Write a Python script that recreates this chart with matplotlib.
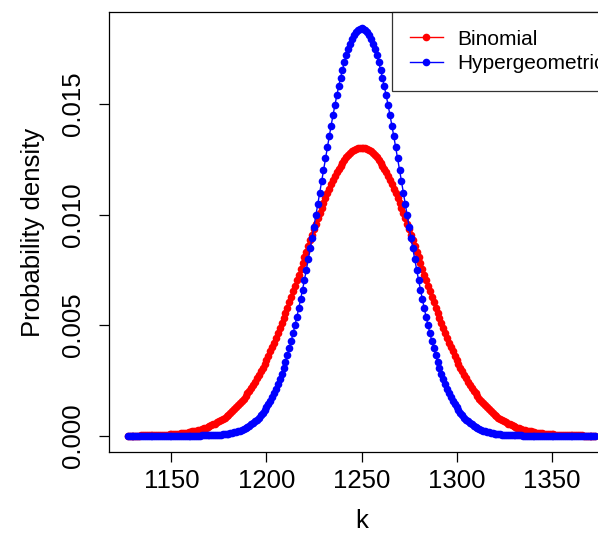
import numpy as np
import matplotlib
matplotlib.use("Agg")
import matplotlib.pyplot as plt

plt.rcParams['font.family'] = ['Liberation Sans', 'DejaVu Sans']

# k values
k = np.arange(1127, 1374)

# Probability values in units of 1e-5
binom_e5 = [
    0.4, 0.5, 0.5, 0.6, 0.7, 0.8, 0.9, 1.0, 1.1, 1.3,
    1.4, 1.6, 1.8, 2.0, 2.3, 2.6, 2.9, 3.3, 3.6, 4.1,
    4.5, 5.1, 5.7, 6.3, 7.0, 7.8, 8.6, 9.6, 10.6, 11.7,
    12.9, 14.3, 15.7, 17.3, 19.1, 21.0, 23.0, 25.2, 27.6, 30.2,
    33.1, 36.1, 39.4, 42.9, 46.7, 50.8, 55.2, 59.8, 64.9, 70.2,
    76.0, 82.1, 88.6, 95.5, 102.8, 110.6, 118.9, 127.6, 136.9, 146.6,
    156.9, 167.7, 179.1, 191.0, 203.5, 216.7, 230.4, 244.7, 259.6, 275.1,
    291.3, 308.1, 325.5, 343.5, 362.1, 381.3, 401.1, 421.5, 442.5, 464.0,
    486.0, 508.6, 531.6, 555.1, 579.0, 603.2, 627.8, 652.8, 678.0, 703.4,
    729.0, 754.7, 780.5, 806.3, 832.1, 857.7, 883.3, 908.6, 933.6, 958.4,
    982.7, 1006.6, 1029.9, 1052.7, 1074.8, 1096.2, 1116.9, 1136.7, 1155.7, 1173.7,
    1190.7, 1206.7, 1221.6, 1235.3, 1247.9, 1259.3, 1269.4, 1278.2, 1285.7, 1291.9,
    1296.8, 1300.2, 1302.3,
    1303.0,
    1302.3, 1300.2, 1296.8,
    1291.9, 1285.7, 1278.2, 1269.4, 1259.3, 1247.9, 1235.3, 1221.6, 1206.7, 1190.7,
    1173.7, 1155.7, 1136.7, 1116.9, 1096.2, 1074.8, 1052.7, 1029.9, 1006.6, 982.7,
    958.4, 933.6, 908.6, 883.3, 857.7, 832.1, 806.3, 780.5, 754.7, 729.0,
    703.4, 678.0, 652.8, 627.8, 603.2, 579.0, 555.1, 531.6, 508.6, 486.0,
    464.0, 442.5, 421.5, 401.1, 381.3, 362.1, 343.5, 325.5, 308.1, 291.3,
    275.1, 259.6, 244.7, 230.4, 216.7, 203.5, 191.0, 179.1, 167.7, 156.9,
    146.6, 136.9, 127.6, 118.9, 110.6, 102.8, 95.5, 88.6, 82.1, 76.0,
    70.2, 64.9, 59.8, 55.2, 50.8, 46.7, 42.9, 39.4, 36.1, 33.1,
    30.2, 27.6, 25.2, 23.0, 21.0, 19.1, 17.3, 15.7, 14.3, 12.9,
    11.7, 10.6, 9.6, 8.6, 7.8, 7.0, 6.3, 5.7, 5.1, 4.5,
    4.1, 3.6, 3.3, 2.9, 2.6, 2.3, 2.0, 1.8, 1.6, 1.4,
    1.3, 1.1, 1.0, 0.9, 0.8, 0.7, 0.6, 0.5, 0.5, 0.4,
]

hyper_e5 = [
    0, 0, 0, 0, 0, 0, 0, 0, 0, 0, 0, 0, 0, 0, 0, 0, 0, 0, 0, 0, 0, 0, 0, 0, 0,
    0.1, 0.1, 0.1, 0.1, 0.1, 0.2, 0.2, 0.3, 0.3, 0.4,
    0.5, 0.6, 0.7, 0.8, 1.0, 1.2, 1.4, 1.7, 2.0, 2.4,
    2.8, 3.3, 3.9, 4.6, 5.4, 6.3, 7.3, 8.5, 9.9, 11.5,
    13.3, 15.3, 17.7, 20.3, 23.3, 26.7, 30.5, 34.8, 39.6, 45.0,
    51.0, 57.6, 65.0, 73.2, 82.2, 92.1, 103.0, 115.0, 128.1, 142.3,
    157.8, 174.7, 192.9, 212.5, 233.7, 256.4, 280.8, 306.8, 334.5, 363.9,
    395.0, 427.9, 462.6, 498.9, 537.0, 576.8, 618.2, 661.2, 705.7, 751.5,
    798.6, 846.9, 896.1, 946.2, 997.0, 1048.3, 1099.8, 1151.4, 1202.9, 1254.0,
    1304.5, 1354.1, 1402.6, 1449.8, 1495.3, 1539.0, 1580.6, 1619.9, 1656.5, 1690.5,
    1721.4, 1749.1, 1773.6, 1794.5, 1811.8, 1825.4, 1835.2, 1841.0,
    1843.0,
    1841.0, 1835.2, 1825.4, 1811.8, 1794.5, 1773.6, 1749.1, 1721.4,
    1690.5, 1656.5, 1619.9, 1580.6, 1539.0, 1495.3, 1449.8, 1402.6, 1354.1, 1304.5,
    1254.0, 1202.9, 1151.4, 1099.8, 1048.3, 997.0, 946.2, 896.1, 846.9, 798.6,
    751.5, 705.7, 661.2, 618.2, 576.8, 537.0, 498.9, 462.6, 427.9, 395.0,
    363.9, 334.5, 306.8, 280.8, 256.4, 233.7, 212.5, 192.9, 174.7, 157.8,
    142.3, 128.1, 115.0, 103.0, 92.1, 82.2, 73.2, 65.0, 57.6, 51.0,
    45.0, 39.6, 34.8, 30.5, 26.7, 23.3, 20.3, 17.7, 15.3, 13.3,
    11.5, 9.9, 8.5, 7.3, 6.3, 5.4, 4.6, 3.9, 3.3, 2.8,
    2.4, 2.0, 1.7, 1.4, 1.2, 1.0, 0.8, 0.7, 0.6, 0.5,
    0.4, 0.3, 0.3, 0.2, 0.2, 0.1, 0.1, 0.1, 0.1, 0.1,
    0, 0, 0, 0, 0, 0, 0, 0, 0, 0, 0, 0, 0, 0, 0, 0, 0, 0, 0, 0, 0, 0, 0, 0, 0,
]

binom = np.array(binom_e5) * 1e-5
hyper = np.array(hyper_e5) * 1e-5

series_labels = ["Binomial", "Hypergeometric"]
x_ticks = [1150, 1200, 1250, 1300, 1350]
y_ticks = [0.000, 0.005, 0.010, 0.015]

W, H = 598, 535
fig = plt.figure(figsize=(W / 100, H / 100), dpi=100)
ax = fig.add_axes([109 / W, 1 - 452 / H, (614 - 109) / W, (452 - 12) / H])

ax.plot(k, binom, '-o', color='#FF0000', lw=1, ms=5.5, mew=0, label=series_labels[0])
ax.plot(k, hyper, '-o', color='#0000FF', lw=1, ms=5.5, mew=0, label=series_labels[1])

# R-style 4% padding
xr = k.max() - k.min()
ax.set_xlim(k.min() - 0.04 * xr, k.max() + 0.04 * xr)
ymin = min(binom.min(), hyper.min())
ymax = max(binom.max(), hyper.max())
yr = ymax - ymin
ax.set_ylim(ymin - 0.04 * yr, ymax + 0.04 * yr)

ax.set_xticks(x_ticks)
ax.set_xticklabels([str(t) for t in x_ticks])
ax.set_yticks(y_ticks)
ax.set_yticklabels([f"{t:.3f}" for t in y_ticks])

for s in ax.spines.values():
    s.set_linewidth(0.9)
    s.set_color('black')

ax.tick_params(axis='both', direction='out', length=7, width=0.9, labelsize=18.5, colors='black')
ax.tick_params(axis='x', pad=5.5)
ax.tick_params(axis='y', pad=10)
for lab in ax.get_yticklabels():
    lab.set_rotation(90)
    lab.set_va('center')

ax.set_xlabel("k", fontsize=18.5, labelpad=11)
ax.set_ylabel("Probability density", fontsize=18.5, labelpad=12)

leg = ax.legend(loc='upper left', bbox_to_anchor=((392 - 109) / (614 - 109), 1.0),
                fontsize=15, frameon=True, fancybox=False, borderpad=0.85,
                handlelength=1.6, handletextpad=0.67, labelspacing=0.25,
                borderaxespad=0, markerscale=1.0)
leg.get_frame().set_edgecolor('black')
leg.get_frame().set_linewidth(0.9)

fig.savefig("out.png", dpi=100)
